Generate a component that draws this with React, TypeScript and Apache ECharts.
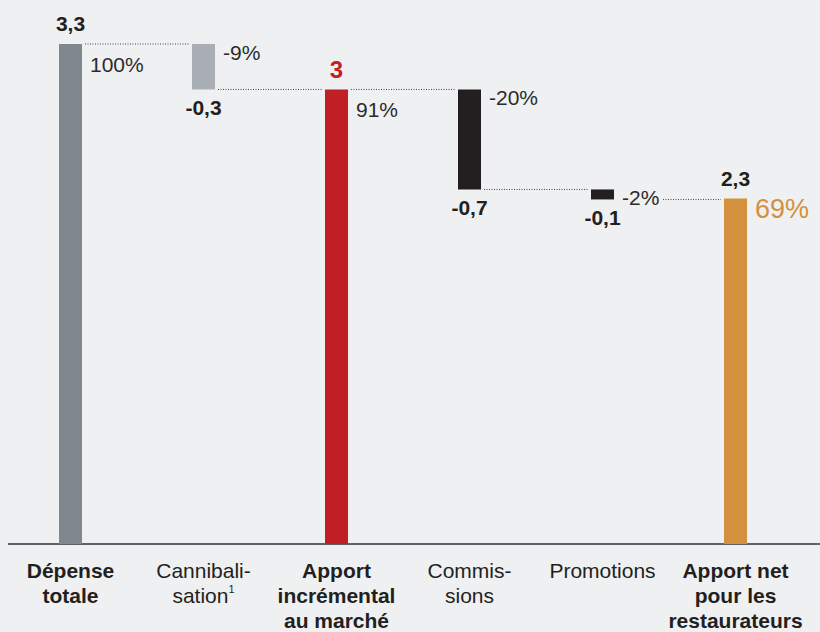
import React, { useEffect, useRef } from "react";
import * as echarts from "echarts";

// ---- data ----
const categories = [
  "Dépense\ntotale",
  "Cannibali-\nsation¹",
  "Apport\nincrémental\nau marché",
  "Commis-\nsions",
  "Promotions",
  "Apport net\npour les\nrestaurateurs",
];
const kinds = ["total", "delta", "total", "delta", "delta", "total"];
const values = [3.3, -0.3, 3.0, -0.66, -0.066, 2.28];
const valueLabels = ["3,3", "-0,3", "3", "-0,7", "-0,1", "2,3"];
const percentLabels = ["100%", "-9%", "91%", "-20%", "-2%", "69%"];
const boldCategory = [true, false, true, false, false, true];
const barColors = ["#80878D", "#A9AFB4", "#C01F25", "#231F20", "#231F20", "#D4903C"];

const FONT = "'Liberation Sans', Arial, Helvetica, sans-serif";
const TEXT = "#231F20";

export default function App() {
  const ref = useRef<HTMLDivElement>(null);
  useEffect(() => {
    document.body.style.margin = "0";
    if (!ref.current) return;
    const chart = echarts.init(ref.current, undefined, { renderer: "svg" });

    // waterfall geometry from the values
    const bases: number[] = [];
    const heights: number[] = [];
    const tops: number[] = [];
    const levels: number[] = [];
    let running = 0;
    values.forEach((v, i) => {
      if (kinds[i] === "total") {
        bases.push(0);
        heights.push(v);
        tops.push(v);
        running = v;
      } else {
        const next = running + v;
        bases.push(Math.min(running, next));
        heights.push(Math.abs(v));
        tops.push(Math.max(running, next));
        running = next;
      }
      levels.push(running);
    });
    const n = values.length;
    const half = 11.5;

    const option: any = {
      animation: false,
      backgroundColor: "#EFF0F2",
      grid: { left: 4, right: 18, top: 44, bottom: 88, containLabel: false },
      xAxis: {
        type: "category",
        data: categories,
        axisLine: { show: false },
        axisTick: { show: false },
        axisLabel: {
          interval: 0,
          margin: 14,
          formatter: (val: string, idx: number) => {
            const style = boldCategory[idx] ? "b" : "r";
            return val
              .split("\n")
              .map((line) => {
                if (line.endsWith("¹")) {
                  return `{${style}|${line.slice(0, -1)}}{sup|1}`;
                }
                return `{${style}|${line}}`;
              })
              .join("\n");
          },
          rich: {
            b: { fontFamily: FONT, fontSize: 21, fontWeight: "bold", color: TEXT, lineHeight: 25 },
            r: { fontFamily: FONT, fontSize: 21, color: TEXT, lineHeight: 25 },
            sup: { fontFamily: FONT, fontSize: 11, color: TEXT, lineHeight: 22, verticalAlign: "top" },
          },
        },
      },
      yAxis: { type: "value", min: 0, max: 3.3, show: false },
      graphic: [
        {
          type: "line",
          shape: { x1: 8, y1: 544, x2: 820, y2: 544 },
          style: { stroke: "#333333", lineWidth: 1.5 },
          silent: true,
        },
      ],
      series: [
        {
          type: "bar",
          stack: "wf",
          barWidth: 23,
          silent: true,
          itemStyle: { color: "transparent" },
          data: bases,
        },
        {
          type: "bar",
          stack: "wf",
          barWidth: 23,
          data: heights.map((h, i) => {
            const isTop = kinds[i] === "total";
            const isRed = i === 2;
            return {
              value: h,
              itemStyle: { color: barColors[i] },
              label: {
                show: true,
                position: isTop ? "top" : "bottom",
                distance: isTop ? (isRed ? 8 : 10) : 8,
                formatter: valueLabels[i],
                fontFamily: FONT,
                fontWeight: "bold",
                fontSize: isRed ? 24 : 21,
                color: isRed ? "#C01F25" : TEXT,
              },
            };
          }),
        },
        {
          type: "custom",
          silent: true,
          data: values.map((_, i) => [i, tops[i]]),
          renderItem: (params: any, api: any) => {
            const i = api.value(0);
            const [cx, yTop] = api.coord([i, tops[i]]);
            const children: any[] = [];
            const isLast = i === n - 1;
            const dy = kinds[i] === "total" ? (isLast ? 10 : 20) : 8;
            children.push({
              type: "text",
              style: {
                text: percentLabels[i],
                x: cx + half + 8,
                y: yTop + dy,
                align: "left",
                verticalAlign: "middle",
                fontFamily: FONT,
                fontSize: isLast ? 27 : 21,
                fill: isLast ? "#D4903C" : "#2B2B2B",
              },
            });
            if (i < n - 1) {
              const [nx] = api.coord([i + 1, 0]);
              const [, ly] = api.coord([i, levels[i]]);
              const start = i === n - 2 ? cx + half + 49 : cx + half + 3;
              children.push({
                type: "line",
                shape: { x1: start, y1: ly, x2: nx - half - 3, y2: ly },
                style: { stroke: "#444444", lineWidth: 1, lineDash: [1, 1.5] },
              });
            }
            return { type: "group", children };
          },
        },
      ],
    };
    chart.setOption(option);
    return () => chart.dispose();
  }, []);
  return <div ref={ref} style={{ width: 820, height: 632, background: "#EFF0F2" }} />;
}
